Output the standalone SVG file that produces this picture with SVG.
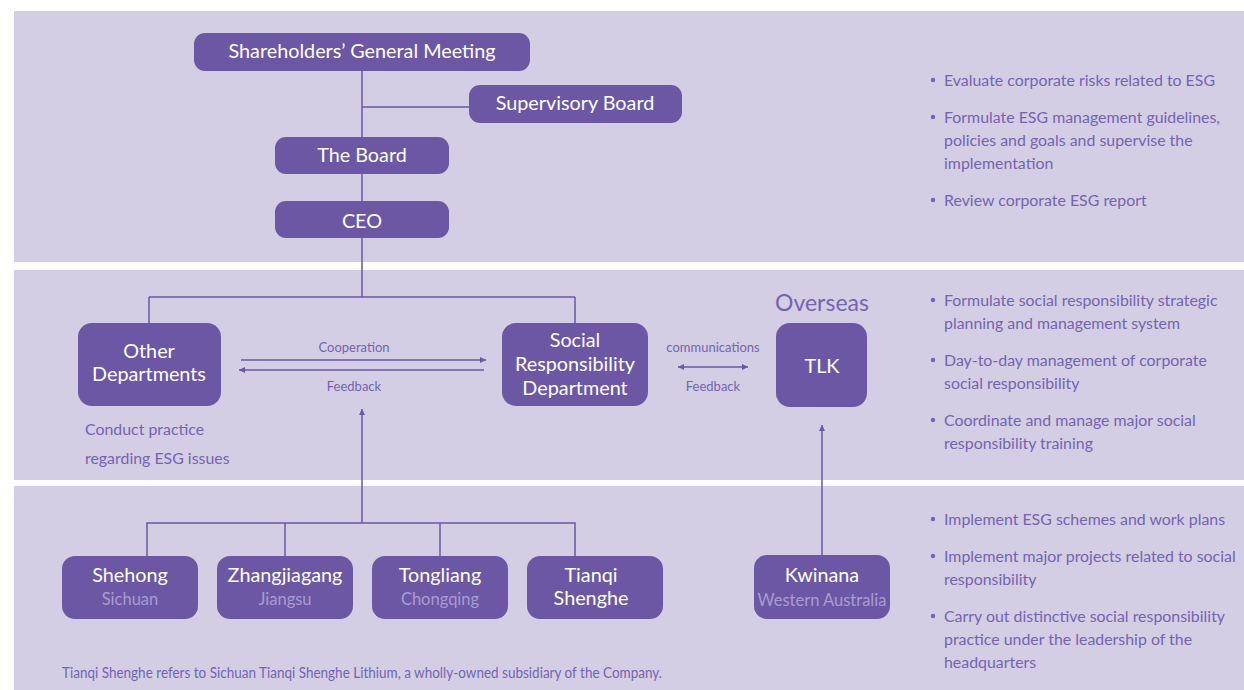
<svg xmlns="http://www.w3.org/2000/svg" width="1244" height="690" viewBox="0 0 1244 690">
<style>
.panel{fill:#d3cee4}
.node{fill:#6b57a4}
.t{font-family:Lato,"Open Sans","Noto Sans",sans-serif;fill:#ffffff;text-anchor:middle;font-size:19.8px}
.sub{font-family:Lato,"Open Sans","Noto Sans",sans-serif;fill:#a99cd2;text-anchor:middle;font-size:16.5px}
.b{font-family:Lato,"Open Sans","Noto Sans",sans-serif;fill:#7464b0;font-size:15.9px}
.lbl{font-family:Lato,"Open Sans","Noto Sans",sans-serif;fill:#7464b0;font-size:13px;text-anchor:middle}
.ln{stroke:#6b57a4;stroke-width:1.5;fill:none}
.dot{fill:#7464b0}
</style>
<defs>
<marker id="ah" viewBox="0 0 10 10" refX="10" refY="5" markerWidth="6" markerHeight="6" markerUnits="userSpaceOnUse" orient="auto-start-reverse">
<path d="M0,0 L10,5 L0,10 z" fill="#6b57a4"/>
</marker>
</defs>
<rect width="1244" height="690" fill="#ffffff"/>
<rect class="panel" x="14" y="11" width="1230" height="251"/>
<rect class="panel" x="14" y="270" width="1230" height="210"/>
<rect class="panel" x="14" y="486" width="1230" height="204"/>

<g id="connectors">
<path class="ln" d="M362,71 V137 M362,107 H469 M362,174 V201 M362,238 V297 M149,297 H575 M149,297 V323 M575,297 V323"/>
<path class="ln" d="M241,360 H486" marker-end="url(#ah)"/>
<path class="ln" d="M484,370 H239" marker-end="url(#ah)"/>
<path class="ln" d="M678,367 H748" marker-start="url(#ah)" marker-end="url(#ah)"/>
<path class="ln" d="M362,523 V409" marker-end="url(#ah)"/>
<path class="ln" d="M147,556 V523 H575 V556 M285,523 V556 M440,523 V556"/>
<path class="ln" d="M822,555 V425" marker-end="url(#ah)"/>
<text class="lbl" x="354" y="352">Cooperation</text>
<text class="lbl" x="354" y="391">Feedback</text>
<text class="lbl" x="713" y="352">communications</text>
<text class="lbl" x="713" y="391">Feedback</text>
</g>

<g id="shareholders">
<rect class="node" x="194" y="33" width="336" height="38" rx="11"/>
<text class="t" x="362" y="58">Shareholders’ General Meeting</text>
</g>
<g id="supervisory">
<rect class="node" x="469" y="85" width="213" height="38" rx="11"/>
<text class="t" x="575" y="110">Supervisory Board</text>
</g>
<g id="board">
<rect class="node" x="275" y="137" width="174" height="37" rx="11"/>
<text class="t" x="362" y="162">The Board</text>
</g>
<g id="ceo">
<rect class="node" x="275" y="201" width="174" height="37" rx="11"/>
<text class="t" x="362" y="228">CEO</text>
</g>

<g id="other-departments">
<rect class="node" x="78" y="323" width="143" height="83" rx="14"/>
<text class="t" x="149" y="358">Other</text>
<text class="t" x="149" y="381">Departments</text>
</g>
<g id="social-responsibility">
<rect class="node" x="502" y="323" width="146" height="83" rx="14"/>
<text class="t" x="575" y="347">Social</text>
<text class="t" x="575" y="371">Responsibility</text>
<text class="t" x="575" y="395">Department</text>
</g>
<g id="tlk">
<text x="822" y="311" font-family="Lato,'Open Sans',sans-serif" font-size="23" fill="#7464b0" text-anchor="middle">Overseas</text>
<rect class="node" x="776" y="323" width="91" height="84" rx="14"/>
<text class="t" x="822" y="373">TLK</text>
</g>
<g id="conduct-note">
<text class="b" x="85" y="435" font-size="16.6">Conduct practice</text>
<text class="b" x="85" y="464" font-size="16.6">regarding ESG issues</text>
</g>

<g id="shehong">
<rect class="node" x="62" y="556" width="136" height="63" rx="13"/>
<text class="t" x="130" y="582">Shehong</text>
<text class="sub" x="130" y="605">Sichuan</text>
</g>
<g id="zhangjiagang">
<rect class="node" x="217" y="556" width="136" height="63" rx="13"/>
<text class="t" x="285" y="582">Zhangjiagang</text>
<text class="sub" x="285" y="605">Jiangsu</text>
</g>
<g id="tongliang">
<rect class="node" x="372" y="556" width="136" height="63" rx="13"/>
<text class="t" x="440" y="582">Tongliang</text>
<text class="sub" x="440" y="605">Chongqing</text>
</g>
<g id="tianqi-shenghe">
<rect class="node" x="527" y="556" width="136" height="63" rx="13"/>
<text class="t" x="591" y="582">Tianqi</text>
<text class="t" x="591" y="605">Shenghe</text>
</g>
<g id="kwinana">
<rect class="node" x="754" y="555" width="136" height="64" rx="13"/>
<text class="t" x="822" y="582">Kwinana</text>
<text class="sub" x="822" y="606">Western Australia</text>
</g>

<g id="footnote">
<text class="b" x="62" y="678" font-size="12.6" textLength="600" lengthAdjust="spacingAndGlyphs">Tianqi Shenghe refers to Sichuan Tianqi Shenghe Lithium, a wholly-owned subsidiary of the Company.</text>
</g>

<g id="notes-board">
<circle class="dot" cx="933" cy="80" r="2.2"/>
<text class="b" x="944" y="86">Evaluate corporate risks related to ESG</text>
<circle class="dot" cx="933" cy="117" r="2.2"/>
<text class="b" x="944" y="123">Formulate ESG management guidelines,</text>
<text class="b" x="944" y="146">policies and goals and supervise the</text>
<text class="b" x="944" y="169">implementation</text>
<circle class="dot" cx="933" cy="200" r="2.2"/>
<text class="b" x="944" y="206">Review corporate ESG report</text>
</g>
<g id="notes-department">
<circle class="dot" cx="933" cy="300" r="2.2"/>
<text class="b" x="944" y="306">Formulate social responsibility strategic</text>
<text class="b" x="944" y="329">planning and management system</text>
<circle class="dot" cx="933" cy="360" r="2.2"/>
<text class="b" x="944" y="366">Day-to-day management of corporate</text>
<text class="b" x="944" y="389">social responsibility</text>
<circle class="dot" cx="933" cy="420" r="2.2"/>
<text class="b" x="944" y="426">Coordinate and manage major social</text>
<text class="b" x="944" y="449">responsibility training</text>
</g>
<g id="notes-plants">
<circle class="dot" cx="933" cy="519" r="2.2"/>
<text class="b" x="944" y="525">Implement ESG schemes and work plans</text>
<circle class="dot" cx="933" cy="556" r="2.2"/>
<text class="b" x="944" y="562">Implement major projects related to social</text>
<text class="b" x="944" y="585">responsibility</text>
<circle class="dot" cx="933" cy="616" r="2.2"/>
<text class="b" x="944" y="622">Carry out distinctive social responsibility</text>
<text class="b" x="944" y="645">practice under the leadership of the</text>
<text class="b" x="944" y="668">headquarters</text>
</g>
</svg>
